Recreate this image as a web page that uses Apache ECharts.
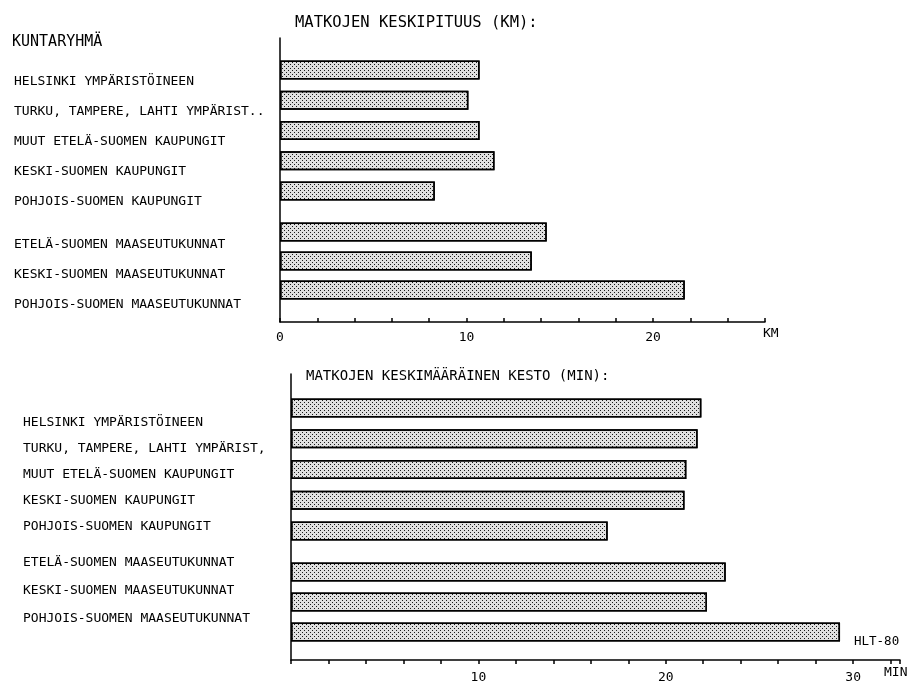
<!DOCTYPE html>
<html>
<head>
<meta charset="utf-8">
<title>HLT-80</title>
<script src="https://cdn.jsdelivr.net/npm/echarts@6/dist/echarts.min.js"></script>
<style>
html, body { margin: 0; background: #fff; }
#chart { width: 913px; height: 691px; }
</style>
</head>
<body>
<div id="chart"></div>
<script>
// kuntaryhmät (kaupungit / maaseutu)
const citiesKm = ['HELSINKI YMPÄRISTÖINEEN', 'TURKU, TAMPERE, LAHTI YMPÄRIST..', 'MUUT ETELÄ-SUOMEN KAUPUNGIT', 'KESKI-SUOMEN KAUPUNGIT', 'POHJOIS-SUOMEN KAUPUNGIT']
const citiesMin = ['HELSINKI YMPÄRISTÖINEEN', 'TURKU, TAMPERE, LAHTI YMPÄRIST,', 'MUUT ETELÄ-SUOMEN KAUPUNGIT', 'KESKI-SUOMEN KAUPUNGIT', 'POHJOIS-SUOMEN KAUPUNGIT']
const rural = ['ETELÄ-SUOMEN MAASEUTUKUNNAT', 'KESKI-SUOMEN MAASEUTUKUNNAT', 'POHJOIS-SUOMEN MAASEUTUKUNNAT']

// matkojen keskipituus (km)
const kmCities = [10.7, 10.1, 10.7, 11.5, 8.3]
const kmRural = [14.3, 13.5, 21.7]
// matkojen keskimääräinen kesto (min)
const minCities = [21.9, 21.7, 21.1, 21.0, 16.9]
const minRural = [23.2, 22.2, 29.3]

const mono = 'DejaVu Sans Mono'
const ink = '#000'

// pisteytetty täyttö kuten alkuperäisessä tulosteessa
const dots = {
    symbol: 'rect',
    symbolSize: 1,
    dashArrayX: [[1, 3], [0, 2, 1, 1]],
    dashArrayY: [1, 1],
    color: '#1a1a1a'
}

function barSeries(values, axis) {
    return {
        type: 'bar',
        xAxisIndex: axis,
        yAxisIndex: axis,
        data: values,
        barWidth: 19,
        itemStyle: {
            color: '#e0e0e0',
            borderColor: '#000',
            borderWidth: 1.5,
            decal: dots
        },
        silent: true
    }
}

function hiddenX(grid, max) {
    return { type: 'value', gridIndex: grid, min: 0, max: max, show: false }
}
function hiddenCat(grid, data) {
    return { type: 'category', gridIndex: grid, data: data, inverse: true, show: false }
}
function labelCat(grid, data) {
    return {
        type: 'category', gridIndex: grid, data: data, inverse: true,
        axisLine: { show: false }, axisTick: { show: false },
        axisLabel: { inside: true, margin: 0, fontFamily: mono, fontSize: 13, color: ink }
    }
}
function frameX(grid, max, showZero, tickInside, name, margin, nameGap, namePad) {
    return {
        type: 'value', gridIndex: grid, min: 0, max: max, interval: 2,
        name: name, nameLocation: 'end', nameGap: nameGap,
        nameTextStyle: { fontFamily: mono, fontSize: 13, color: ink, align: 'left', verticalAlign: 'top', padding: [namePad, 0, 0, 0] },
        axisLine: { onZero: false, lineStyle: { color: '#000', width: 1.5 } },
        axisTick: { inside: tickInside, length: 4, lineStyle: { color: '#000', width: 1.5 } },
        splitLine: { show: false },
        axisLabel: {
            margin: margin, fontFamily: mono, fontSize: 13, color: ink,
            showMinLabel: true, showMaxLabel: true,
            formatter: v => (v % 10 === 0 && (showZero || v > 0)) ? String(v) : ''
        }
    }
}
function frameY(grid) {
    return {
        type: 'value', gridIndex: grid, min: 0, max: 1,
        axisLine: { show: true, lineStyle: { color: '#000', width: 1.5 } },
        axisTick: { show: false }, axisLabel: { show: false }, splitLine: { show: false }
    }
}

const kmMax = 26
const minMax = 32.5

const chart = echarts.init(document.getElementById('chart'))
chart.setOption({
    animation: false,
    backgroundColor: '#fff',
    title: [
        { text: 'KUNTARYHMÄ', left: 12, top: 35, padding: 0, textStyle: { fontFamily: mono, fontSize: 15, fontWeight: 'normal', color: ink } },
        { text: 'MATKOJEN KESKIPITUUS (KM):', left: 295, top: 15, padding: 0, textStyle: { fontFamily: mono, fontSize: 15.5, fontWeight: 'normal', color: ink } },
        { text: 'MATKOJEN KESKIMÄÄRÄINEN KESTO (MIN):', left: 306, top: 369, padding: 0, textStyle: { fontFamily: mono, fontSize: 14, fontWeight: 'normal', color: ink } },
        { text: 'HLT-80', left: 854, top: 635, padding: 0, textStyle: { fontFamily: mono, fontSize: 12.5, fontWeight: 'normal', color: ink } }
    ],
    grid: [
        // ylempi kuvio
        { left: 280, right: 148, top: 38, height: 284 },
        { left: 280, right: 148, top: 55, height: 151 },
        { left: 280, right: 148, top: 217.5, height: 87 },
        { left: 14, width: 10, top: 67, height: 150 },
        { left: 14, width: 10, top: 230, height: 90 },
        // alempi kuvio
        { left: 291, right: 13, top: 374, height: 286 },
        { left: 291, right: 13, top: 392.5, height: 154 },
        { left: 291, right: 13, top: 557, height: 90 },
        { left: 23, width: 10, top: 410, height: 130 },
        { left: 23, width: 10, top: 549, height: 83 }
    ],
    xAxis: [
        frameX(0, kmMax, true, true, 'KM', 9, -2, 5),
        hiddenX(1, kmMax),
        hiddenX(2, kmMax),
        hiddenX(3, 1),
        hiddenX(4, 1),
        frameX(5, minMax, false, false, 'MIN', 11, -16, 6),
        hiddenX(6, minMax),
        hiddenX(7, minMax),
        hiddenX(8, 1),
        hiddenX(9, 1)
    ],
    yAxis: [
        frameY(0),
        hiddenCat(1, citiesKm),
        hiddenCat(2, rural),
        labelCat(3, citiesKm),
        labelCat(4, rural),
        frameY(5),
        hiddenCat(6, citiesMin),
        hiddenCat(7, rural),
        labelCat(8, citiesMin),
        labelCat(9, rural)
    ],
    series: [
        barSeries(kmCities, 1),
        barSeries(kmRural, 2),
        barSeries(minCities, 6),
        barSeries(minRural, 7)
    ]
})
</script>
</body>
</html>
